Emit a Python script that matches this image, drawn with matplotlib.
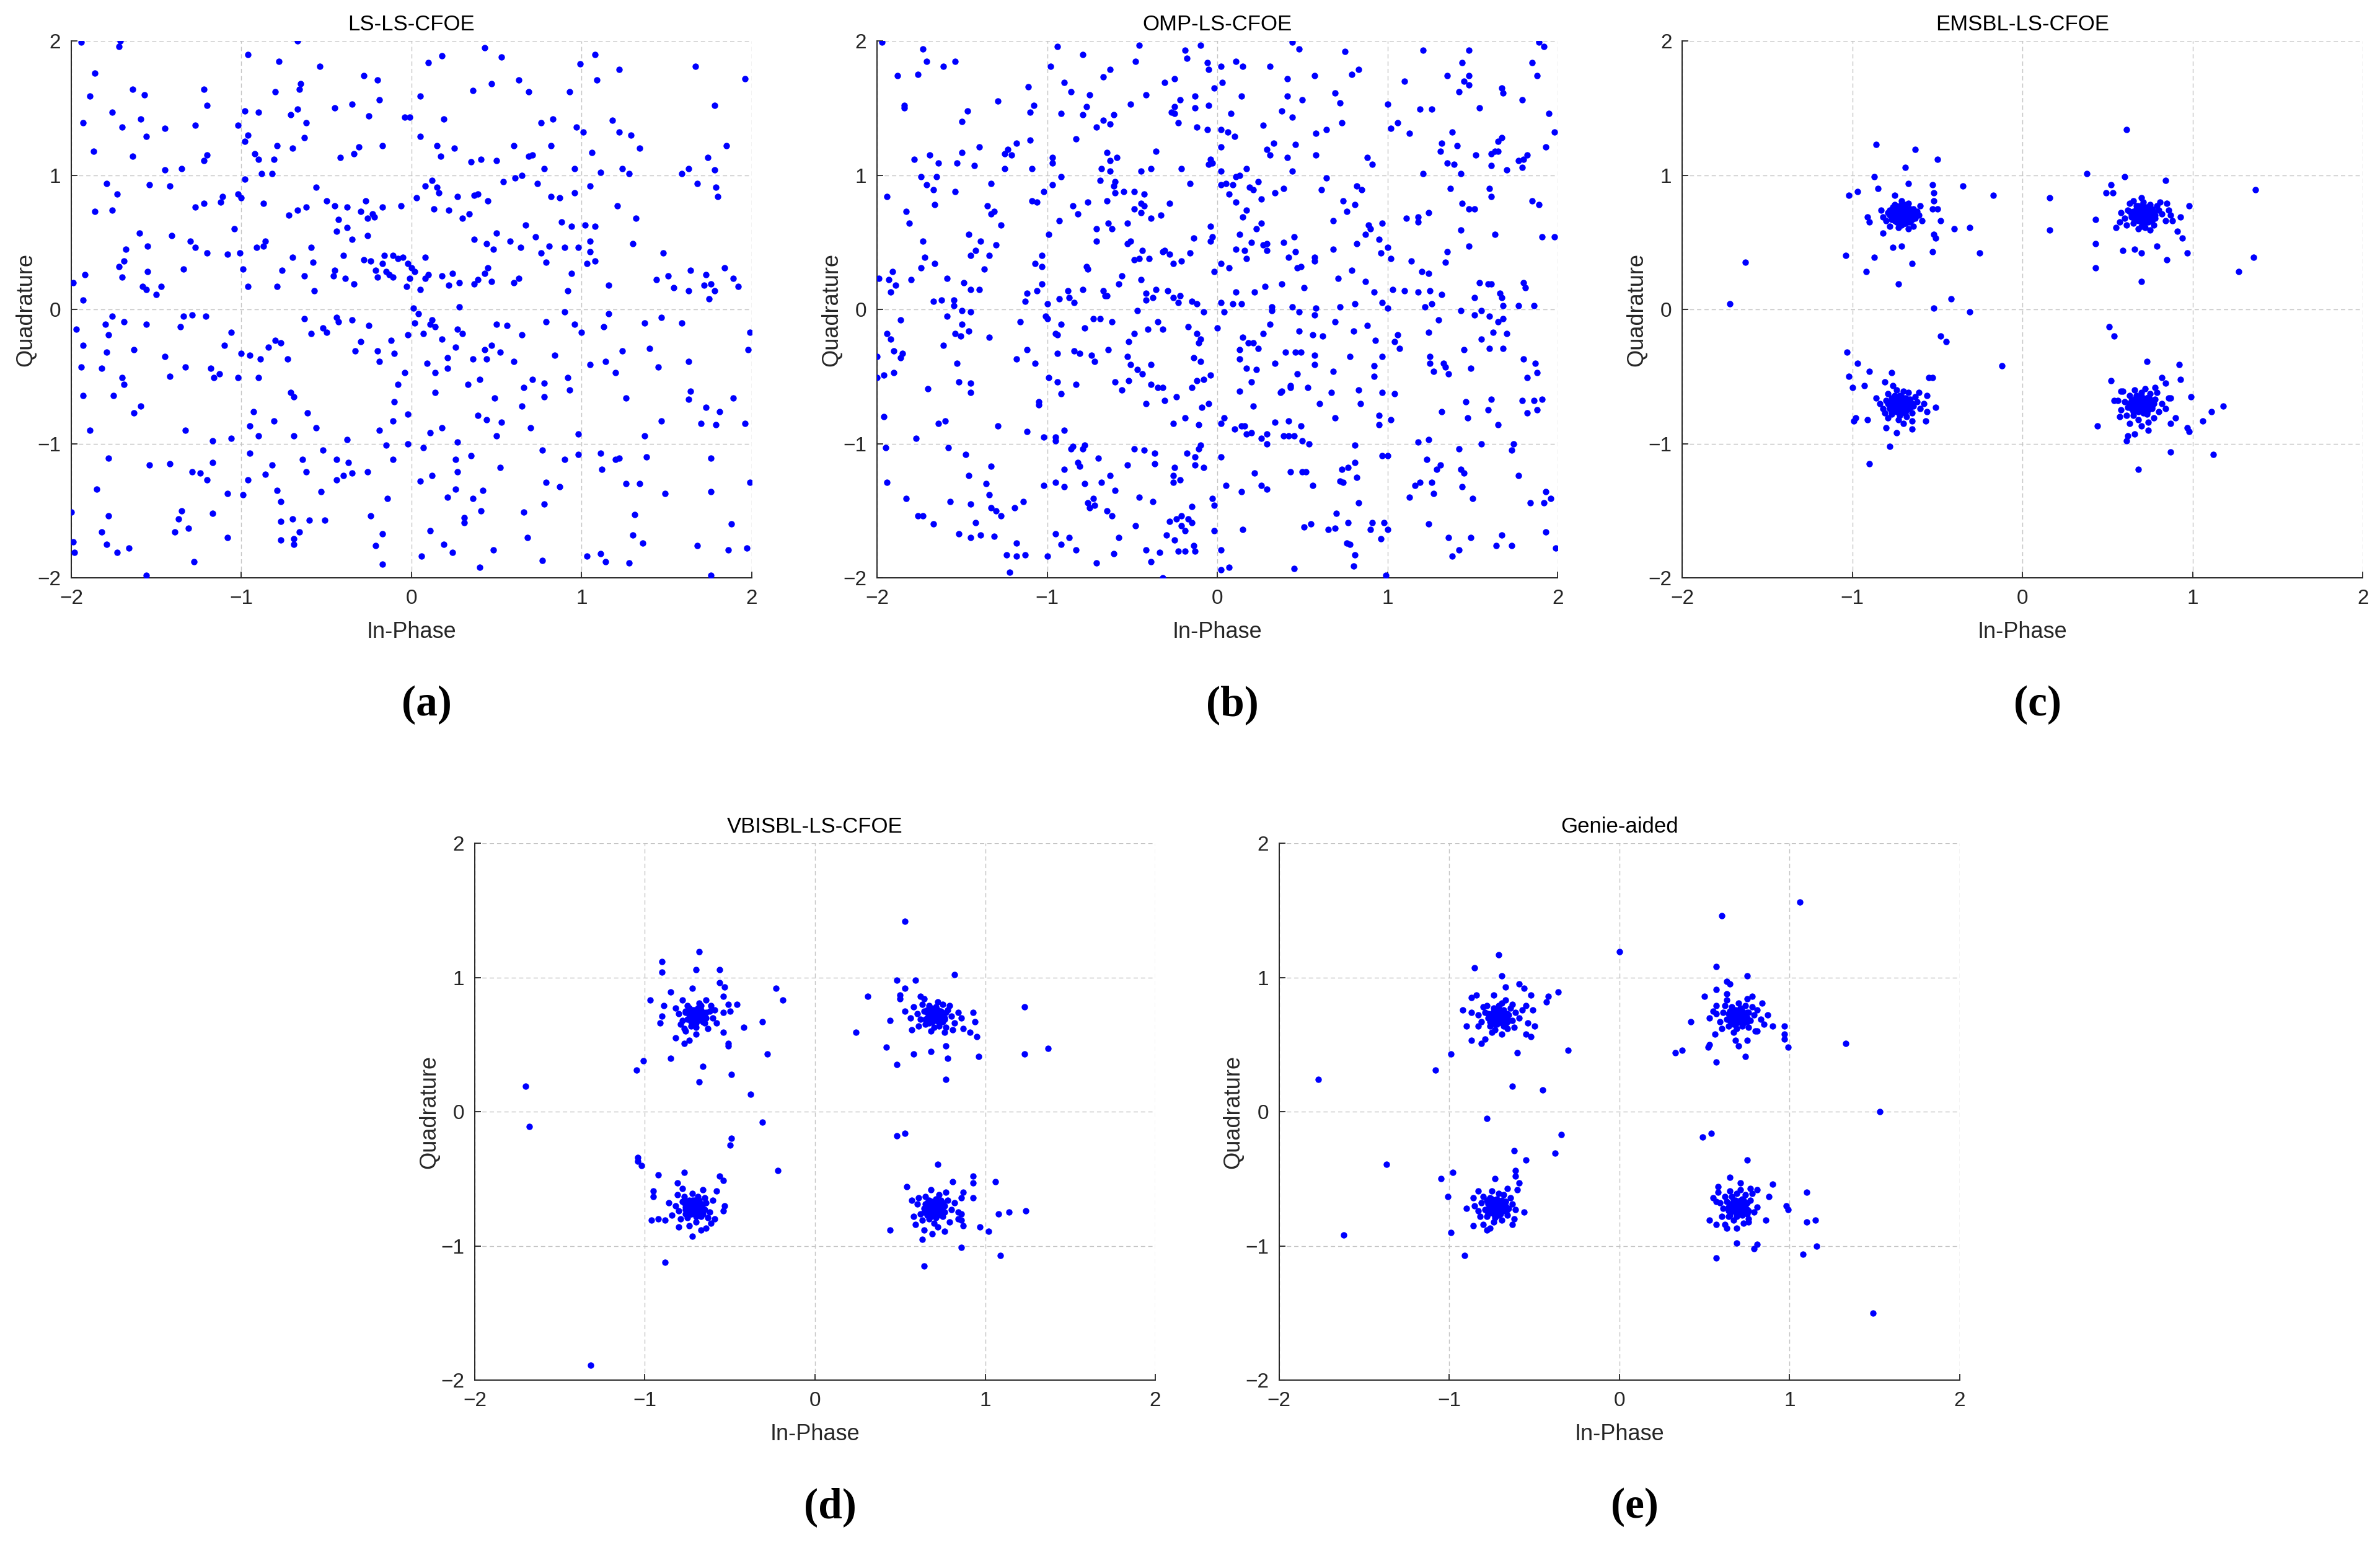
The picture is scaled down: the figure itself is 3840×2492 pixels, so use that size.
import matplotlib
matplotlib.use('Agg')
import matplotlib.pyplot as plt
import numpy as np

# Received constellation points (In-Phase, Quadrature)

# (a) LS-LS-CFOE
pts_a = [
    (-1.94, 1.99), (-1.71, 2.0), (-1.72, 1.96), (-0.67, 2.0), (-0.96, 1.90), (-0.78, 1.85), (-0.54, 1.81),
    (1.08, 1.90), (0.43, 1.95), (0.53, 1.88), (0.18, 1.89), (0.10, 1.84), (0.99, 1.83), (1.22, 1.79),
    (1.67, 1.81), (1.09, 1.71), (0.63, 1.71), (1.96, 1.72), (-1.86, 1.76), (-1.89, 1.59), (-1.57, 1.60),
    (-1.64, 1.64), (-0.80, 1.62), (-0.65, 1.68), (-0.66, 1.64), (-0.28, 1.74), (-0.20, 1.71), (-0.19, 1.56),
    (-0.35, 1.53), (0.05, 1.59), (0.36, 1.63), (0.47, 1.68), (0.93, 1.62), (0.69, 1.62), (1.78, 1.52),
    (-1.93, 1.39), (-1.76, 1.47), (-1.70, 1.36), (-1.59, 1.42), (-1.56, 1.29), (-1.45, 1.35), (-1.27, 1.37),
    (-1.20, 1.52), (-1.22, 1.64), (-1.02, 1.37), (-0.98, 1.48), (-0.90, 1.47), (-0.71, 1.45), (-0.67, 1.49),
    (-0.62, 1.39), (-0.63, 1.28), (-0.45, 1.50), (-0.25, 1.44), (-0.04, 1.43), (-0.01, 1.43), (0.05, 1.29),
    (0.19, 1.42), (0.83, 1.42), (0.76, 1.39), (0.97, 1.36), (1.18, 1.41), (1.22, 1.32), (1.29, 1.30),
    (-1.87, 1.18), (-1.64, 1.14), (-1.20, 1.15), (-1.22, 1.11), (-0.98, 1.25), (-0.96, 1.30), (-0.92, 1.16),
    (-0.90, 1.12), (-0.81, 1.12), (-0.79, 1.22), (-0.70, 1.20), (-0.42, 1.13), (-0.34, 1.16), (-0.31, 1.21),
    (-0.17, 1.22), (0.15, 1.22), (0.25, 1.20), (0.17, 1.14), (0.35, 1.10), (0.41, 1.12), (0.50, 1.11),
    (0.60, 1.22), (0.69, 1.14), (0.71, 1.15), (0.82, 1.22), (1.01, 1.32), (1.06, 1.17), (1.34, 1.20),
    (1.74, 1.13), (1.85, 1.22), (1.78, 1.04), (1.63, 1.05), (1.59, 1.01), (1.24, 1.05), (1.28, 1.01),
    (1.11, 1.02), (0.96, 1.05), (1.05, 0.92),
    (-1.45, 1.04), (-1.35, 1.05), (-1.79, 0.94), (-1.73, 0.86), (-1.86, 0.73), (-1.76, 0.74), (-1.54, 0.93),
    (-1.42, 0.92), (-1.22, 0.79), (-1.27, 0.76), (-1.11, 0.84), (-1.12, 0.80), (-1.02, 0.86), (-1.00, 0.83),
    (-0.98, 0.97), (-0.88, 1.01), (-0.87, 0.79), (-0.82, 1.01), (-0.56, 0.91), (-0.50, 0.81), (-0.62, 0.76),
    (-0.72, 0.70), (-0.67, 0.74), (-0.45, 0.77), (-0.43, 0.67), (-0.38, 0.76), (-0.38, 0.61), (-0.30, 0.73),
    (-0.27, 0.81), (-0.23, 0.71), (-0.26, 0.68), (-0.22, 0.69), (-0.17, 0.76), (-0.06, 0.77), (0.03, 0.83),
    (0.08, 0.92), (0.12, 0.96), (0.15, 0.91), (0.16, 0.87), (0.13, 0.75), (0.22, 0.74), (0.27, 0.84),
    (0.30, 0.68), (0.34, 0.71), (0.37, 0.85), (0.39, 0.86), (0.45, 0.81), (0.54, 0.95), (0.61, 0.98),
    (0.65, 1.00), (0.74, 0.94), (0.82, 0.84), (0.87, 0.83), (0.78, 1.05), (0.96, 0.87), (0.88, 0.65),
    (0.94, 0.62), (1.08, 0.62), (1.21, 0.77), (1.32, 0.68), (1.68, 0.94), (1.79, 0.91), (1.80, 0.84),
    (-1.60, 0.57), (-1.68, 0.45), (-1.69, 0.36), (-1.72, 0.32), (-1.70, 0.24), (-1.55, 0.47), (-1.41, 0.55),
    (-1.30, 0.51), (-1.27, 0.46), (-1.34, 0.30), (-1.58, 0.17), (-1.56, 0.15), (-1.47, 0.17), (-1.50, 0.11),
    (-1.55, 0.28), (-1.92, 0.26), (-1.99, 0.20), (-1.93, 0.07), (-1.20, 0.42), (-1.08, 0.41), (-1.01, 0.42),
    (-0.99, 0.30), (-0.96, 0.17), (-1.04, 0.60), (-0.91, 0.46), (-0.86, 0.51), (-0.87, 0.47), (-0.76, 0.29),
    (-0.79, 0.17), (-0.70, 0.39), (-0.63, 0.25), (-0.59, 0.46), (-0.58, 0.35), (-0.57, 0.14), (-0.44, 0.58),
    (-0.45, 0.29), (-0.46, 0.25), (-0.40, 0.40), (-0.35, 0.52), (-0.39, 0.23), (-0.34, 0.19), (-0.28, 0.37),
    (-0.26, 0.55), (-0.24, 0.36), (-0.21, 0.29), (-0.20, 0.24), (-0.17, 0.34), (-0.15, 0.28), (-0.13, 0.26),
    (-0.11, 0.24), (-0.16, 0.40), (-0.11, 0.40), (-0.08, 0.38), (-0.05, 0.39), (-0.02, 0.34), (0.00, 0.31),
    (-0.01, 0.23), (-0.03, 0.17), (0.05, 0.15), (0.08, 0.23), (0.08, 0.39), (0.02, 0.28), (0.10, 0.26),
    (0.18, 0.25), (0.22, 0.18), (0.24, 0.27), (0.28, 0.20), (0.37, 0.19), (0.39, 0.22), (0.43, 0.27),
    (0.45, 0.31), (0.47, 0.21), (0.44, 0.49), (0.37, 0.52), (0.48, 0.45), (0.50, 0.57), (0.58, 0.51),
    (0.60, 0.20), (0.63, 0.23), (0.64, 0.46), (0.67, 0.63), (0.73, 0.54), (0.81, 0.47), (0.76, 0.42),
    (0.79, 0.35), (0.90, 0.46), (0.92, 0.14), (0.94, 0.27), (0.98, 0.46), (1.03, 0.34), (1.02, 0.63),
    (1.05, 0.51), (1.08, 0.36), (1.16, 0.18), (1.30, 0.49), (1.44, 0.22), (1.51, 0.25), (1.54, 0.16),
    (1.64, 0.29), (1.72, 0.18), (1.73, 0.26), (1.76, 0.19), (1.84, 0.31), (1.89, 0.23), (1.92, 0.17),
    (1.78, 0.14), (1.63, 0.14), (1.75, 0.08), (1.48, 0.42), (1.05, 0.43),
    (-1.97, -0.15), (-1.93, -0.27), (-1.80, -0.11), (-1.78, -0.19), (-1.76, -0.05), (-1.79, -0.32),
    (-1.70, -0.51), (-1.69, -0.09), (-1.63, -0.30), (-1.56, -0.11), (-1.45, -0.35), (-1.42, -0.50),
    (-1.36, -0.13), (-1.34, -0.05), (-1.33, -0.43), (-1.29, -0.04), (-1.21, -0.05), (-1.18, -0.44),
    (-1.16, -0.51), (-1.13, -0.48), (-1.10, -0.27), (-1.06, -0.17), (-1.02, -0.51), (-1.00, -0.33),
    (-0.95, -0.34), (-0.90, -0.51), (-0.89, -0.37), (-0.84, -0.28), (-0.80, -0.23), (-0.77, -0.25),
    (-0.73, -0.37), (-0.71, -0.62), (-0.69, -0.65), (-0.63, -0.07), (-0.59, -0.18), (-0.52, -0.14),
    (-0.50, -0.17), (-0.44, -0.06), (-0.43, -0.09), (-0.35, -0.08), (-0.33, -0.31), (-0.30, -0.24),
    (-0.25, -0.12), (-0.20, -0.31), (-0.19, -0.39), (-0.12, -0.23), (-0.10, -0.33), (-0.08, -0.56),
    (-0.10, -0.69), (-0.04, -0.47), (-0.02, -0.19), (0.01, 0.01), (0.04, -0.03), (0.11, -0.11),
    (0.09, -0.40), (0.02, -0.10), (0.07, -0.18), (0.12, -0.08), (0.14, -0.13), (0.18, -0.22),
    (0.14, -0.47), (0.21, -0.36), (0.21, -0.44), (0.26, -0.28), (0.28, 0.02), (0.27, -0.15),
    (0.30, -0.18), (0.33, -0.56), (0.36, -0.37), (0.40, -0.52), (0.43, -0.30), (0.44, -0.37),
    (0.47, -0.27), (0.52, -0.32), (0.49, -0.66), (0.50, -0.11), (0.56, -0.12), (0.60, -0.39),
    (0.65, -0.19), (0.66, -0.58), (0.65, -0.72), (0.71, -0.52), (0.78, -0.55), (0.79, -0.09),
    (0.78, -0.65), (0.84, -0.34), (0.90, -0.02), (0.92, -0.51), (0.93, -0.60), (0.96, -0.11),
    (1.00, -0.17), (1.05, -0.41), (1.13, -0.13), (1.14, -0.39), (1.16, -0.03), (1.20, -0.47),
    (1.24, -0.31), (1.26, -0.66), (1.37, -0.10), (1.40, -0.29), (1.45, -0.43), (1.47, -0.06),
    (1.63, -0.39), (1.64, -0.61), (1.63, -0.67), (1.73, -0.73), (1.79, -0.86), (1.81, -0.76),
    (1.96, -0.85), (1.99, -0.17), (1.98, -0.30), (1.89, -0.66), (1.59, -0.10), (-1.93, -0.64),
    (-1.94, -0.43), (-1.89, -0.90), (-1.82, -0.44), (-1.75, -0.64), (-1.69, -0.56), (-1.63, -0.77),
    (-1.59, -0.72), (-1.54, -1.16), (-1.42, -1.15), (-1.33, -0.90), (-1.17, -0.98), (-1.06, -0.96),
    (-0.95, -0.87), (-0.90, -0.94), (-0.93, -0.76), (-0.81, -0.83), (-0.69, -0.94), (-0.61, -0.77),
    (-0.56, -0.88), (-0.38, -0.97), (-0.19, -0.90), (-0.11, -0.83), (-0.02, -0.78), (0.11, -0.92),
    (0.14, -0.62), (0.18, -0.88), (0.27, -0.99), (0.39, -0.79), (0.44, -0.82), (0.50, -0.94),
    (0.53, -0.84), (0.70, -0.88), (0.98, -0.93), (1.37, -0.94), (1.47, -0.83), (1.70, -0.85),
    (-2.00, -1.51), (-1.99, -1.73), (-1.98, -1.81), (-1.85, -1.34), (-1.82, -1.66), (-1.79, -1.75),
    (-1.78, -1.54), (-1.73, -1.81), (-1.66, -1.78), (-1.78, -1.11), (-1.56, -1.98), (-1.37, -1.56),
    (-1.35, -1.50), (-1.39, -1.66), (-1.31, -1.63), (-1.29, -1.21), (-1.24, -1.22), (-1.20, -1.27),
    (-1.28, -1.88), (-1.17, -1.52), (-1.17, -1.14), (-1.08, -1.70), (-1.08, -1.37), (-0.99, -1.38),
    (-0.96, -1.27), (-0.95, -1.07), (-0.86, -1.23), (-0.82, -1.16), (-0.79, -1.35), (-0.77, -1.43),
    (-0.77, -1.58), (-0.77, -1.72), (-0.70, -1.56), (-0.69, -1.71), (-0.69, -1.75), (-0.66, -1.66),
    (-0.64, -1.12), (-0.62, -1.21), (-0.60, -1.57), (-0.51, -1.57), (-0.53, -1.36), (-0.52, -1.05),
    (-0.44, -1.12), (-0.44, -1.27), (-0.37, -1.14), (-0.40, -1.24), (-0.35, -1.22), (-0.26, -1.21),
    (-0.24, -1.54), (-0.21, -1.76), (-0.17, -1.67), (-0.17, -1.90), (-0.14, -1.41), (-0.11, -1.12),
    (-0.15, -1.01), (-0.02, -1.00), (0.05, -1.28), (0.06, -1.84), (0.11, -1.65), (0.12, -1.24),
    (0.07, -1.03), (0.19, -1.75), (0.24, -1.81), (0.21, -1.40), (0.26, -1.34), (0.26, -1.12),
    (0.27, -1.21), (0.31, -1.55), (0.31, -1.59), (0.35, -1.09), (0.36, -1.41), (0.41, -1.50),
    (0.42, -1.35), (0.48, -1.79), (0.40, -1.92), (0.52, -1.18), (0.66, -1.51), (0.68, -1.70),
    (0.77, -1.87), (0.78, -1.45), (0.79, -1.29), (0.87, -1.32), (0.77, -1.05), (0.90, -1.12),
    (0.98, -1.08), (1.03, -1.84), (1.11, -1.82), (1.14, -1.88), (1.12, -1.19), (1.11, -1.07),
    (1.20, -1.12), (1.22, -1.11), (1.28, -1.89), (1.30, -1.68), (1.31, -1.53), (1.34, -1.30),
    (1.26, -1.30), (1.36, -1.74), (1.38, -1.10), (1.49, -1.37), (1.76, -1.98), (1.76, -1.36),
    (1.76, -1.11), (1.88, -1.60), (1.86, -1.79), (1.97, -1.78), (1.99, -1.29), (1.68, -1.76),
]

# (b) OMP-LS-CFOE
pts_b = [
    (-1.97, 1.99), (-1.73, 1.94), (-1.71, 1.85), (-1.61, 1.81), (-1.54, 1.85), (-1.88, 1.74), (-1.76, 1.75),
    (-1.84, 1.52), (-1.84, 1.50), (-1.50, 1.40), (-1.47, 1.48), (-1.29, 1.55), (-1.11, 1.66), (-1.08, 1.52),
    (-1.10, 1.47), (-0.94, 1.96), (-0.98, 1.81), (-0.79, 1.90), (-0.90, 1.69), (-0.86, 1.62), (-0.75, 1.60),
    (-0.77, 1.51), (-0.79, 1.45), (-0.92, 1.46), (-0.67, 1.73), (-0.63, 1.79), (-0.46, 1.97), (-0.48, 1.85),
    (-0.42, 1.60), (-0.51, 1.53), (-0.67, 1.41), (-0.61, 1.45), (-0.63, 1.38), (-0.71, 1.36), (-0.83, 1.27),
    (-0.31, 1.69), (-0.25, 1.72), (-0.19, 1.93), (-0.18, 1.87), (-0.10, 1.97), (-0.06, 1.84), (-0.05, 1.79),
    (-0.02, 1.65), (0.03, 1.69), (0.02, 1.81), (0.11, 1.85), (0.15, 1.81), (0.14, 1.59), (-0.22, 1.56),
    (-0.25, 1.51), (-0.27, 1.47), (-0.25, 1.46), (-0.23, 1.39), (-0.13, 1.59), (-0.13, 1.50), (-0.05, 1.52),
    (-0.12, 1.36), (-0.06, 1.34), (0.08, 1.46), (0.02, 1.34), (0.06, 1.32), (0.10, 1.29), (0.27, 1.37),
    (0.31, 1.81), (0.44, 1.99), (0.48, 1.94), (0.41, 1.72), (0.41, 1.59), (0.50, 1.56), (0.38, 1.48),
    (0.44, 1.43), (0.75, 1.92), (0.79, 1.75), (0.83, 1.79), (0.57, 1.74), (0.69, 1.61), (0.72, 1.54),
    (0.58, 1.31), (0.64, 1.34), (0.73, 1.39), (1.00, 1.53), (1.10, 1.70), (1.21, 1.93), (1.19, 1.49),
    (1.26, 1.49), (1.06, 1.39), (1.02, 1.35), (1.13, 1.31), (1.35, 1.74), (1.44, 1.84), (1.48, 1.93),
    (1.45, 1.70), (1.48, 1.67), (1.48, 1.74), (1.42, 1.62), (1.54, 1.50), (1.67, 1.65), (1.68, 1.61),
    (1.79, 1.56), (1.85, 1.84), (1.88, 1.74), (1.89, 1.99), (1.92, 1.96), (1.95, 1.46), (1.98, 1.32),
    (1.38, 1.32),
    (-1.69, 1.15), (-1.78, 1.12), (-1.64, 1.09), (-1.74, 0.99), (-1.65, 0.99), (-1.71, 0.93), (-1.67, 0.89),
    (-1.66, 0.78), (-1.94, 0.84), (-1.83, 0.73), (-1.81, 0.64), (-1.50, 1.17), (-1.53, 1.09), (-1.54, 0.88),
    (-1.40, 1.21), (-1.43, 1.07), (-1.33, 0.94), (-1.35, 0.77), (-1.31, 0.73), (-1.33, 0.71), (-1.27, 0.63),
    (-1.25, 1.16), (-1.23, 1.19), (-1.21, 1.15), (-1.25, 1.05), (-1.18, 1.24), (-1.10, 1.26), (-1.09, 1.05),
    (-1.09, 0.81), (-1.06, 0.80), (-1.02, 0.88), (-0.97, 1.13), (-0.97, 1.09), (-0.97, 0.93), (-0.92, 0.99),
    (-0.93, 0.66), (-0.85, 0.77), (-0.82, 0.71), (-0.76, 0.80), (-0.65, 1.17), (-0.63, 1.11), (-0.59, 1.13),
    (-0.68, 1.05), (-0.63, 1.03), (-0.69, 0.96), (-0.60, 0.95), (-0.61, 0.92), (-0.60, 0.87), (-0.65, 0.81),
    (-0.55, 0.88), (-0.49, 0.88), (-0.43, 0.86), (-0.49, 0.75), (-0.45, 0.79), (-0.43, 0.77), (-0.45, 0.72),
    (-0.39, 0.68), (-0.33, 0.70), (-0.39, 1.05), (-0.45, 1.03), (-0.36, 1.18), (-0.28, 0.79), (-0.64, 0.64),
    (-0.62, 0.60), (-0.71, 0.60), (-0.53, 0.64), (-0.21, 1.05), (-0.16, 0.94), (-0.04, 1.12), (-0.05, 1.08),
    (-0.03, 1.09), (0.02, 1.03), (0.02, 0.93), (0.05, 0.94), (0.02, 1.21), (0.11, 0.99), (0.09, 0.93),
    (0.13, 1.00), (0.17, 1.05), (0.07, 0.86), (0.11, 0.80), (0.15, 0.69), (0.17, 0.74), (0.19, 0.91),
    (0.21, 0.89), (0.24, 0.95), (0.26, 0.82), (0.29, 1.19), (0.31, 1.15), (0.33, 1.24), (0.34, 0.87),
    (0.39, 0.90), (0.41, 1.13), (0.44, 1.03), (0.46, 1.23), (0.58, 1.15), (0.64, 0.98), (0.61, 0.89),
    (0.68, 0.66), (0.74, 0.81), (0.76, 0.73), (0.81, 0.78), (0.82, 0.92), (0.85, 0.89), (0.88, 1.13),
    (0.91, 1.08), (1.21, 1.01), (1.11, 0.68), (1.18, 0.69), (1.18, 0.65), (1.24, 0.72), (0.89, 0.63),
    (0.90, 0.60), (0.97, 0.64), (1.31, 1.18), (1.32, 1.24), (1.35, 1.09), (1.39, 1.08), (1.43, 1.01),
    (1.41, 1.22), (1.37, 0.90), (1.44, 0.79), (1.48, 0.75), (1.51, 0.75), (1.52, 1.15), (1.61, 1.16),
    (1.63, 1.18), (1.65, 1.25), (1.67, 1.28), (1.65, 1.18), (1.61, 1.07), (1.70, 1.04), (1.60, 0.90),
    (1.61, 0.84), (1.77, 1.11), (1.79, 1.06), (1.80, 1.12), (1.82, 1.15), (1.85, 0.81), (1.89, 0.78),
    (1.93, 1.21), (1.91, 0.54), (1.98, 0.54), (1.63, 0.56),
    (-1.73, 0.51), (-1.72, 0.39), (-1.74, 0.31), (-1.80, 0.22), (-1.91, 0.28), (-1.99, 0.23), (-1.93, 0.22),
    (-1.89, 0.18), (-1.92, 0.13), (-1.66, 0.34), (-1.59, 0.23), (-1.67, 0.06), (-1.62, 0.07), (-1.55, 0.07),
    (-1.55, 0.03), (-1.46, 0.56), (-1.39, 0.51), (-1.42, 0.44), (-1.45, 0.40), (-1.34, 0.40), (-1.37, 0.30),
    (-1.30, 0.48), (-1.49, 0.20), (-1.45, 0.15), (-1.40, 0.15), (-1.07, 0.34), (-1.03, 0.40), (-1.03, 0.32),
    (-0.99, 0.56), (-1.03, 0.19), (-1.06, 0.14), (-1.12, 0.12), (-1.13, 0.06), (-1.00, 0.04), (-0.93, 0.08),
    (-0.88, 0.14), (-0.87, 0.09), (-0.84, 0.05), (-0.79, 0.15), (-0.77, 0.32), (-0.76, 0.30), (-0.71, 0.51),
    (-0.67, 0.14), (-0.66, 0.10), (-0.65, 0.10), (-0.58, 0.19), (-0.56, 0.25), (-0.53, 0.49), (-0.51, 0.51),
    (-0.49, 0.37), (-0.46, 0.38), (-0.45, 0.22), (-0.44, 0.44), (-0.40, 0.38), (-0.42, 0.12), (-0.42, 0.07),
    (-0.38, 0.09), (-0.32, 0.43), (-0.31, 0.44), (-0.28, 0.41), (-0.26, 0.34), (-0.36, 0.15), (-0.29, 0.14),
    (-0.26, 0.09), (-0.23, 0.05), (-0.22, 0.10), (-0.21, 0.36), (-0.16, 0.42), (-0.14, 0.53), (-0.15, 0.06),
    (-0.12, 0.04), (-0.08, -0.02), (-0.04, 0.62), (-0.03, 0.54), (-0.04, 0.51), (-0.02, 0.28), (0.02, 0.34),
    (0.07, 0.31), (0.02, 0.05), (0.04, -0.02), (0.09, 0.04), (0.11, 0.13), (0.14, 0.04), (0.13, 0.56),
    (0.11, 0.45), (0.16, 0.44), (0.20, 0.50), (0.23, 0.60), (0.26, 0.64), (0.17, 0.38), (0.22, 0.13),
    (0.28, 0.17), (0.27, 0.48), (0.29, 0.44), (0.29, 0.49), (0.32, 0.02), (0.32, -0.01), (0.38, 0.19),
    (0.39, 0.50), (0.45, 0.54), (0.42, 0.39), (0.46, 0.43), (0.47, 0.31), (0.49, 0.32), (0.51, 0.16),
    (0.44, 0.02), (0.48, -0.02), (0.57, 0.39), (0.57, 0.36), (0.58, 0.01), (0.57, -0.04), (0.71, 0.23),
    (0.69, -0.09), (0.72, 0.02), (0.68, 0.45), (0.79, 0.29), (0.82, 0.49), (0.87, 0.56), (0.87, 0.21),
    (0.81, 0.04), (0.92, 0.13), (0.95, 0.52), (0.96, 0.42), (1.00, 0.46), (1.02, 0.38), (0.97, 0.05),
    (1.00, 0.01), (1.03, 0.15), (1.14, 0.36), (1.10, 0.14), (1.20, 0.28), (1.18, 0.13), (1.24, 0.27),
    (1.25, 0.14), (1.22, 0.02), (1.26, 0.04), (1.35, 0.43), (1.34, 0.35), (1.32, 0.11), (1.48, 0.47),
    (1.43, 0.59), (1.54, 0.20), (1.59, 0.19), (1.61, 0.19), (1.51, 0.09), (1.66, 0.12), (1.67, 0.09),
    (1.68, 0.03), (1.77, 0.03), (1.80, 0.20), (1.81, 0.16), (1.86, 0.03), (1.43, -0.01),
    (-2.00, -0.35), (-2.00, -0.51), (-1.96, -0.49), (-1.94, -0.18), (-1.92, -0.22), (-1.90, -0.31),
    (-1.86, -0.08), (-1.85, -0.33), (-1.86, -0.36), (-1.90, -0.47), (-1.59, -0.05), (-1.61, -0.27),
    (-1.50, -0.01), (-1.45, -0.02), (-1.50, -0.11), (-1.54, -0.18), (-1.51, -0.20), (-1.46, -0.16),
    (-1.53, -0.40), (-1.52, -0.54), (-1.45, -0.55), (-1.45, -0.62), (-1.70, -0.59), (-1.34, -0.21),
    (-1.12, -0.30), (-1.18, -0.37), (-1.16, -0.09), (-1.07, -0.40), (-1.01, -0.05), (-1.00, -0.07),
    (-0.99, -0.51), (-0.95, -0.18), (-0.94, -0.19), (-0.92, -0.11), (-0.94, -0.33), (-0.94, -0.54),
    (-0.84, -0.31), (-0.81, -0.33), (-0.83, -0.56), (-0.78, -0.14), (-0.73, -0.07), (-0.69, -0.07),
    (-0.74, -0.34), (-0.72, -0.39), (-0.64, -0.30), (-0.62, -0.09), (-0.60, -0.54), (-0.56, -0.60),
    (-0.52, -0.24), (-0.53, -0.35), (-0.51, -0.41), (-0.52, -0.53), (-0.49, -0.18), (-0.47, -0.01),
    (-0.47, -0.45), (-0.44, -0.48), (-0.41, -0.15), (-0.39, -0.41), (-0.39, -0.56), (-0.35, -0.09),
    (-0.32, -0.15), (-0.32, -0.58), (-0.17, -0.13), (-0.14, -0.36), (-0.10, -0.39), (-0.12, -0.18),
    (-0.10, -0.22), (-0.11, -0.25), (-0.12, -0.53), (-0.08, -0.52), (-0.04, -0.49), (-0.15, -0.58),
    (0.00, -0.14), (0.13, -0.30), (0.13, -0.37), (0.15, -0.21), (0.17, -0.44), (0.18, -0.25),
    (0.21, -0.25), (0.24, -0.29), (0.23, -0.45), (0.20, -0.54), (0.27, -0.18), (0.31, -0.11),
    (0.34, -0.40), (0.40, -0.32), (0.46, -0.32), (0.49, -0.32), (0.48, -0.16), (0.47, -0.48),
    (0.43, -0.57), (0.56, -0.19), (0.57, -0.34), (0.57, -0.41), (0.62, -0.20), (0.68, -0.46),
    (0.78, -0.35), (0.80, -0.16), (0.88, -0.12), (0.93, -0.23), (0.92, -0.42), (0.92, -0.50),
    (0.97, -0.35), (1.04, -0.24), (1.06, -0.19), (1.07, -0.29), (1.24, -0.17), (1.30, -0.08),
    (1.25, -0.35), (1.25, -0.40), (1.27, -0.46), (1.33, -0.40), (1.34, -0.43), (1.36, -0.48),
    (1.45, -0.30), (1.51, -0.04), (1.55, -0.01), (1.55, -0.22), (1.49, -0.44), (1.60, -0.05),
    (1.62, -0.17), (1.60, -0.29), (1.65, -0.09), (1.68, -0.07), (1.70, -0.18), (1.68, -0.29),
    (1.80, -0.37), (1.82, -0.51), (1.87, -0.40), (1.88, -0.47),
    (-1.64, -0.85), (-1.60, -0.83), (-1.96, -0.80), (-1.29, -0.87), (-1.05, -0.69), (-1.05, -0.71),
    (-1.12, -0.91), (-1.02, -0.95), (-0.95, -0.95), (-0.95, -0.98), (-0.90, -0.90), (-0.92, -0.63),
    (-0.35, -0.58), (-0.31, -0.68), (-0.24, -0.65), (-0.26, -0.85), (-0.19, -0.81), (-0.42, -0.70),
    (-0.09, -0.73), (-0.05, -0.70), (-0.11, -0.86), (0.02, -0.85), (0.04, -0.81), (0.13, -0.61),
    (0.10, -0.89), (0.14, -0.87), (0.16, -0.87), (0.17, -0.93), (0.20, -0.92), (0.26, -0.96),
    (0.29, -0.93), (0.29, -1.00), (0.21, -0.72), (0.34, -0.84), (0.37, -0.62), (0.38, -0.61),
    (0.42, -0.83), (0.43, -0.58), (0.39, -0.94), (0.42, -0.94), (0.45, -0.94), (0.49, -0.87),
    (0.50, -0.98), (0.54, -1.00), (0.53, -0.58), (0.60, -0.70), (0.67, -0.62), (0.69, -0.81),
    (0.83, -0.60), (0.84, -0.70), (0.97, -0.62), (0.95, -0.79), (0.95, -0.86), (1.02, -0.82),
    (1.04, -0.63), (1.18, -0.99), (1.24, -0.97), (1.32, -0.76), (1.46, -0.69), (1.47, -0.81),
    (1.55, -1.00), (1.59, -0.75), (1.61, -0.67), (1.65, -0.86), (1.79, -0.68), (1.82, -0.77),
    (1.86, -0.68), (1.88, -0.75), (1.91, -0.67), (1.74, -1.00),
    (-1.95, -1.03), (-1.94, -1.29), (-1.83, -1.41), (-1.77, -0.96), (-1.76, -1.54), (-1.73, -1.54),
    (-1.67, -1.60), (-1.58, -1.03), (-1.57, -1.43), (-1.52, -1.67), (-1.48, -1.08), (-1.46, -1.24),
    (-1.45, -1.45), (-1.42, -1.59), (-1.45, -1.70), (-1.39, -1.68), (-1.36, -1.30), (-1.34, -1.38),
    (-1.33, -1.17), (-1.33, -1.48), (-1.30, -1.50), (-1.31, -1.69), (-1.27, -1.54), (-1.24, -1.83),
    (-1.22, -1.96), (-1.19, -1.48), (-1.18, -1.74), (-1.18, -1.84), (-1.14, -1.43), (-1.13, -1.83),
    (-1.02, -1.31), (-1.00, -1.84), (-0.95, -1.29), (-0.95, -1.67), (-0.92, -1.75), (-0.90, -1.32),
    (-0.90, -1.19), (-0.87, -1.70), (-0.86, -1.04), (-0.85, -1.02), (-0.83, -1.79), (-0.82, -1.14),
    (-0.81, -1.17), (-0.79, -1.04), (-0.78, -1.01), (-0.78, -1.30), (-0.76, -1.44), (-0.75, -1.48),
    (-0.73, -1.41), (-0.72, -1.46), (-0.71, -1.89), (-0.70, -1.11), (-0.68, -1.29), (-0.65, -1.50),
    (-0.63, -1.24), (-0.62, -1.54), (-0.60, -1.35), (-0.61, -1.82), (-0.58, -1.70), (-0.53, -1.16),
    (-0.49, -1.04), (-0.48, -1.61), (-0.46, -1.40), (-0.43, -1.05), (-0.42, -1.79), (-0.39, -1.88),
    (-0.38, -1.43), (-0.37, -1.15), (-0.37, -1.07), (-0.34, -1.81), (-0.32, -2.00), (-0.30, -1.68),
    (-0.28, -1.58), (-0.25, -1.18), (-0.26, -1.24), (-0.26, -1.29), (-0.24, -1.56), (-0.25, -1.72),
    (-0.23, -1.80), (-0.22, -1.27), (-0.21, -1.54), (-0.21, -1.61), (-0.19, -1.65), (-0.19, -1.80),
    (-0.18, -1.07), (-0.17, -1.56), (-0.15, -1.47), (-0.15, -1.59), (-0.14, -1.76), (-0.13, -1.80),
    (-0.13, -1.10), (-0.13, -1.16), (-0.11, -1.04), (-0.10, -1.01), (-0.08, -1.18), (-0.03, -1.41),
    (-0.02, -1.46), (-0.02, -1.65), (0.02, -1.10), (0.02, -1.79), (0.02, -1.94), (0.05, -1.31),
    (0.07, -1.92), (0.14, -1.36), (0.15, -1.64), (0.22, -1.22), (0.26, -1.31), (0.29, -1.34),
    (0.43, -1.21), (0.45, -1.93), (0.50, -1.21), (0.52, -1.21), (0.51, -1.62), (0.55, -1.60),
    (0.56, -1.31), (0.65, -1.64), (0.69, -1.63), (0.70, -1.52), (0.72, -1.28), (0.74, -1.29),
    (0.73, -1.19), (0.77, -1.18), (0.76, -1.74), (0.78, -1.75), (0.77, -1.59), (0.80, -1.91),
    (0.81, -1.83), (0.82, -1.25), (0.83, -1.44), (0.81, -1.14), (0.81, -1.01), (0.90, -1.64),
    (0.91, -1.59), (0.96, -1.71), (0.97, -1.09), (1.00, -1.09), (0.98, -1.59), (1.00, -1.64),
    (0.99, -1.98), (1.13, -1.40), (1.16, -1.31), (1.19, -1.29), (1.23, -1.12), (1.24, -1.60),
    (1.26, -1.29), (1.27, -1.37), (1.29, -1.19), (1.31, -1.16), (1.36, -1.70), (1.38, -1.84),
    (1.42, -1.79), (1.43, -1.19), (1.45, -1.22), (1.44, -1.32), (1.42, -1.04), (1.50, -1.41),
    (1.49, -1.70), (1.64, -1.76), (1.67, -1.68), (1.73, -1.05), (1.73, -1.76), (1.77, -1.24),
    (1.84, -1.44), (1.92, -1.44), (1.93, -1.36), (1.93, -1.66), (1.96, -1.41), (1.99, -1.78),
]

# (c) EMSBL-LS-CFOE: dense cores and scattered points
c_core_ul = [
    (-0.71, 0.70), (-0.69, 0.72), (-0.73, 0.68), (-0.67, 0.69), (-0.75, 0.71), (-0.70, 0.74), (-0.72, 0.66),
    (-0.65, 0.71), (-0.77, 0.69), (-0.74, 0.65), (-0.68, 0.75), (-0.63, 0.68), (-0.79, 0.72), (-0.71, 0.63),
    (-0.66, 0.65), (-0.76, 0.76), (-0.69, 0.78), (-0.62, 0.73), (-0.80, 0.66), (-0.73, 0.61), (-0.64, 0.62),
    (-0.78, 0.62), (-0.67, 0.79), (-0.75, 0.78), (-0.61, 0.70), (-0.82, 0.69), (-0.70, 0.67), (-0.68, 0.70),
    (-0.74, 0.72), (-0.70, 0.73), (-0.72, 0.77), (-0.66, 0.73), (-0.76, 0.67), (-0.69, 0.64), (-0.73, 0.75),
    (-0.64, 0.75), (-0.78, 0.74), (-0.59, 0.66), (-0.83, 0.74), (-0.67, 0.60), (-0.71, 0.81), (-0.60, 0.77),
    (-0.71, 0.71), (-0.70, 0.69), (-0.72, 0.70), (-0.69, 0.71), (-0.73, 0.72), (-0.68, 0.68), (-0.74, 0.68),
    (-0.70, 0.73), (-0.72, 0.67), (-0.67, 0.72), (-0.75, 0.70), (-0.69, 0.66), (-0.73, 0.74), (-0.66, 0.70),
    (-0.76, 0.72), (-0.71, 0.65), (-0.70, 0.76), (-0.65, 0.67), (-0.77, 0.67), (-0.68, 0.74), (-0.74, 0.65),
    (-0.66, 0.75), (-0.76, 0.75), (-0.72, 0.63), (-0.69, 0.64), (-0.64, 0.71), (-0.78, 0.70), (-0.71, 0.77),
    (-0.67, 0.65), (-0.75, 0.66), (-0.73, 0.69), (-0.69, 0.73),
]
c_core_ur = [
    (0.70, 0.71), (0.72, 0.73), (0.68, 0.69), (0.74, 0.70), (0.66, 0.72), (0.71, 0.76), (0.69, 0.66),
    (0.76, 0.73), (0.64, 0.69), (0.73, 0.65), (0.67, 0.77), (0.78, 0.68), (0.62, 0.74), (0.70, 0.62),
    (0.75, 0.78), (0.65, 0.64), (0.80, 0.74), (0.63, 0.79), (0.77, 0.63), (0.60, 0.68), (0.71, 0.80),
    (0.82, 0.71), (0.68, 0.60), (0.73, 0.69), (0.69, 0.74), (0.71, 0.68), (0.67, 0.71), (0.74, 0.75),
    (0.66, 0.67), (0.76, 0.66), (0.72, 0.61), (0.63, 0.73), (0.79, 0.77), (0.70, 0.83), (0.84, 0.66),
    (0.58, 0.72), (0.75, 0.59), (0.61, 0.63), (0.81, 0.80), (0.65, 0.81), (0.86, 0.74), (0.57, 0.65),
    (0.71, 0.71), (0.70, 0.70), (0.72, 0.72), (0.69, 0.72), (0.73, 0.69), (0.68, 0.69), (0.74, 0.73),
    (0.71, 0.74), (0.70, 0.67), (0.67, 0.73), (0.75, 0.71), (0.72, 0.66), (0.69, 0.75), (0.66, 0.70),
    (0.76, 0.68), (0.73, 0.76), (0.68, 0.66), (0.65, 0.73), (0.77, 0.73), (0.70, 0.77), (0.74, 0.65),
    (0.66, 0.67), (0.76, 0.75), (0.71, 0.64), (0.64, 0.70), (0.78, 0.70), (0.68, 0.77), (0.73, 0.68),
    (0.69, 0.70), (0.75, 0.67), (0.67, 0.75), (0.72, 0.74),
]
c_core_ll = [
    (-0.72, -0.70), (-0.70, -0.68), (-0.74, -0.72), (-0.68, -0.71), (-0.76, -0.69), (-0.71, -0.65),
    (-0.73, -0.75), (-0.66, -0.67), (-0.78, -0.73), (-0.69, -0.76), (-0.75, -0.64), (-0.64, -0.72),
    (-0.80, -0.68), (-0.72, -0.79), (-0.67, -0.62), (-0.77, -0.78), (-0.62, -0.69), (-0.82, -0.74),
    (-0.70, -0.61), (-0.65, -0.77), (-0.79, -0.63), (-0.73, -0.82), (-0.60, -0.74), (-0.84, -0.70),
    (-0.71, -0.73), (-0.73, -0.67), (-0.69, -0.70), (-0.75, -0.71), (-0.67, -0.74), (-0.77, -0.66),
    (-0.63, -0.65), (-0.81, -0.77), (-0.68, -0.80), (-0.74, -0.60), (-0.58, -0.70), (-0.86, -0.66),
    (-0.65, -0.83), (-0.79, -0.81), (-0.61, -0.62), (-0.70, -0.85), (-0.76, -0.57), (-0.56, -0.76),
    (-0.72, -0.71), (-0.71, -0.70), (-0.73, -0.72), (-0.70, -0.72), (-0.74, -0.69), (-0.69, -0.69),
    (-0.75, -0.73), (-0.72, -0.74), (-0.71, -0.67), (-0.68, -0.73), (-0.76, -0.71), (-0.73, -0.66),
    (-0.70, -0.75), (-0.67, -0.70), (-0.77, -0.68), (-0.74, -0.76), (-0.69, -0.66), (-0.66, -0.73),
    (-0.78, -0.74), (-0.71, -0.77), (-0.75, -0.65), (-0.67, -0.67), (-0.77, -0.76), (-0.72, -0.64),
    (-0.65, -0.70), (-0.79, -0.70), (-0.69, -0.77), (-0.74, -0.68), (-0.70, -0.70), (-0.76, -0.67),
    (-0.68, -0.75), (-0.73, -0.74),
]
c_core_lr = [
    (0.70, -0.71), (0.68, -0.73), (0.72, -0.69), (0.66, -0.70), (0.74, -0.72), (0.69, -0.67), (0.71, -0.76),
    (0.64, -0.68), (0.76, -0.74), (0.67, -0.64), (0.73, -0.78), (0.62, -0.73), (0.78, -0.67), (0.70, -0.62),
    (0.65, -0.79), (0.75, -0.63), (0.60, -0.69), (0.80, -0.76), (0.68, -0.82), (0.63, -0.64), (0.77, -0.81),
    (0.72, -0.59), (0.58, -0.75), (0.82, -0.70), (0.69, -0.72), (0.71, -0.68), (0.67, -0.75), (0.73, -0.66),
    (0.65, -0.72), (0.75, -0.70), (0.61, -0.79), (0.79, -0.62), (0.66, -0.60), (0.74, -0.84), (0.56, -0.68),
    (0.84, -0.74), (0.63, -0.85), (0.78, -0.58), (0.59, -0.61), (0.86, -0.66), (0.70, -0.87), (0.57, -0.80),
    (0.70, -0.71), (0.71, -0.70), (0.69, -0.72), (0.72, -0.72), (0.68, -0.69), (0.73, -0.69), (0.67, -0.73),
    (0.70, -0.74), (0.71, -0.67), (0.74, -0.73), (0.66, -0.71), (0.69, -0.66), (0.72, -0.75), (0.75, -0.70),
    (0.65, -0.68), (0.68, -0.76), (0.73, -0.66), (0.76, -0.73), (0.64, -0.74), (0.71, -0.77), (0.67, -0.65),
    (0.75, -0.67), (0.65, -0.76), (0.70, -0.64), (0.77, -0.70), (0.63, -0.70), (0.73, -0.77), (0.68, -0.68),
    (0.72, -0.70), (0.66, -0.67), (0.74, -0.75), (0.69, -0.74),
]
c_spread = [
    (-1.72, 0.04), (-1.63, 0.35), (-0.86, 1.23), (-0.63, 1.19), (-0.50, 1.12), (-0.69, 1.06), (-0.87, 0.99),
    (-0.85, 0.90), (-0.97, 0.88), (-1.02, 0.85), (-0.67, 0.94), (-0.75, 0.85), (-0.53, 0.93), (-0.35, 0.92),
    (-0.17, 0.85), (-0.52, 0.87), (-0.52, 0.81), (-0.53, 0.75), (-0.50, 0.75), (-0.48, 0.66), (-0.40, 0.60),
    (-0.31, 0.61), (-0.25, 0.42), (-0.52, 0.56), (-0.51, 0.53), (-0.53, 0.43), (-0.65, 0.34), (-0.73, 0.19),
    (-0.87, 0.39), (-1.04, 0.40), (-0.92, 0.28), (-0.91, 0.69), (-0.90, 0.65), (-0.82, 0.57), (-0.76, 0.46),
    (-0.71, 0.47), (-0.42, 0.08), (-0.52, 0.01), (-0.31, -0.02), (-0.48, -0.20), (-0.45, -0.24), (-0.12, -0.42),
    (0.61, 1.34), (0.38, 1.01), (0.60, 0.99), (0.84, 0.96), (0.52, 0.93), (0.49, 0.87), (0.53, 0.87),
    (0.98, 0.77), (0.93, 0.69), (0.43, 0.67), (0.94, 0.53), (0.91, 0.58), (0.43, 0.49), (0.59, 0.44),
    (0.66, 0.45), (0.70, 0.42), (0.79, 0.47), (0.97, 0.42), (0.85, 0.37), (0.43, 0.31), (0.70, 0.21),
    (0.16, 0.83), (0.16, 0.59), (1.37, 0.89), (1.36, 0.39), (1.27, 0.28), (0.88, 0.66), (0.55, 0.61),
    (0.85, 0.79), (0.87, 0.70),
    (-1.03, -0.32), (-0.97, -0.40), (-1.02, -0.50), (-1.00, -0.58), (-0.93, -0.57), (-0.90, -0.46),
    (-0.98, -0.81), (-0.99, -0.83), (-0.91, -0.82), (-0.77, -0.47), (-0.81, -0.54), (-0.55, -0.51),
    (-0.53, -0.51), (-0.56, -0.64), (-0.51, -0.73), (-0.57, -0.83), (-0.65, -0.89), (-0.74, -0.92),
    (-0.80, -0.88), (-0.78, -1.02), (-0.90, -1.15),
    (0.51, -0.13), (0.54, -0.20), (0.73, -0.39), (0.92, -0.41), (0.52, -0.53), (0.82, -0.51), (0.84, -0.55),
    (0.93, -0.52), (0.58, -0.61), (0.54, -0.68), (0.87, -0.66), (0.99, -0.65), (0.90, -0.81), (0.87, -0.85),
    (0.97, -0.88), (0.98, -0.91), (0.44, -0.87), (0.62, -0.94), (0.66, -0.93), (0.74, -0.90), (0.87, -1.06),
    (0.68, -1.19), (1.06, -0.83), (1.11, -0.76), (1.18, -0.72), (1.12, -1.08), (0.61, -0.98),
]

# (d) VBISBL-LS-CFOE
d_core_ul = [
    (-0.70, 0.72), (-0.68, 0.70), (-0.72, 0.74), (-0.66, 0.73), (-0.74, 0.70), (-0.69, 0.77), (-0.71, 0.67),
    (-0.64, 0.70), (-0.76, 0.75), (-0.73, 0.64), (-0.67, 0.79), (-0.62, 0.75), (-0.78, 0.68), (-0.70, 0.63),
    (-0.65, 0.66), (-0.75, 0.79), (-0.60, 0.70), (-0.80, 0.73), (-0.68, 0.81), (-0.63, 0.62), (-0.77, 0.62),
    (-0.72, 0.69), (-0.69, 0.73), (-0.71, 0.76), (-0.66, 0.68), (-0.74, 0.77), (-0.67, 0.74), (-0.73, 0.71),
    (-0.61, 0.79), (-0.79, 0.65), (-0.64, 0.83), (-0.76, 0.60), (-0.58, 0.66), (-0.82, 0.77), (-0.70, 0.58),
    (-0.59, 0.76),
    (-0.70, 0.72), (-0.69, 0.71), (-0.71, 0.73), (-0.68, 0.73), (-0.72, 0.70), (-0.67, 0.70), (-0.73, 0.74),
    (-0.70, 0.75), (-0.71, 0.68), (-0.66, 0.74), (-0.74, 0.72), (-0.69, 0.68), (-0.72, 0.76), (-0.65, 0.71),
    (-0.75, 0.69), (-0.68, 0.77), (-0.73, 0.67), (-0.66, 0.67), (-0.76, 0.74), (-0.70, 0.66), (-0.64, 0.74),
    (-0.74, 0.77), (-0.67, 0.76), (-0.71, 0.70), (-0.69, 0.74), (-0.72, 0.72),
]
d_core_ur = [
    (0.70, 0.72), (0.72, 0.70), (0.68, 0.74), (0.74, 0.73), (0.66, 0.70), (0.71, 0.77), (0.69, 0.67),
    (0.76, 0.69), (0.64, 0.75), (0.73, 0.64), (0.67, 0.79), (0.78, 0.76), (0.62, 0.69), (0.70, 0.63),
    (0.75, 0.80), (0.65, 0.65), (0.80, 0.71), (0.60, 0.73), (0.77, 0.63), (0.72, 0.82), (0.63, 0.80),
    (0.82, 0.66), (0.71, 0.69), (0.69, 0.75), (0.73, 0.72), (0.67, 0.71), (0.74, 0.67), (0.66, 0.76),
    (0.79, 0.79), (0.61, 0.64), (0.84, 0.74), (0.68, 0.60), (0.58, 0.78), (0.76, 0.59), (0.86, 0.70),
    (0.64, 0.84), (0.81, 0.61), (0.56, 0.70),
    (0.71, 0.71), (0.70, 0.72), (0.72, 0.70), (0.69, 0.70), (0.73, 0.73), (0.68, 0.73), (0.74, 0.69),
    (0.71, 0.68), (0.70, 0.75), (0.75, 0.72), (0.67, 0.71), (0.72, 0.76), (0.69, 0.67), (0.76, 0.70),
    (0.66, 0.74), (0.73, 0.66), (0.68, 0.77), (0.77, 0.74), (0.65, 0.69), (0.71, 0.78), (0.74, 0.75),
    (0.67, 0.66), (0.75, 0.67), (0.70, 0.70), (0.72, 0.73), (0.69, 0.74),
]
d_core_ll = [
    (-0.72, -0.70), (-0.70, -0.72), (-0.74, -0.68), (-0.68, -0.69), (-0.76, -0.71), (-0.71, -0.66),
    (-0.73, -0.76), (-0.66, -0.73), (-0.78, -0.67), (-0.69, -0.63), (-0.75, -0.79), (-0.64, -0.68),
    (-0.80, -0.74), (-0.72, -0.61), (-0.67, -0.78), (-0.77, -0.63), (-0.62, -0.75), (-0.82, -0.70),
    (-0.70, -0.82), (-0.65, -0.64), (-0.79, -0.80), (-0.73, -0.69), (-0.71, -0.73), (-0.69, -0.67),
    (-0.75, -0.74), (-0.67, -0.71), (-0.77, -0.66), (-0.63, -0.79), (-0.81, -0.62), (-0.74, -0.85),
    (-0.60, -0.66), (-0.84, -0.77), (-0.66, -0.58), (-0.78, -0.57), (-0.61, -0.83), (-0.86, -0.68),
    (-0.71, -0.71), (-0.70, -0.70), (-0.72, -0.72), (-0.69, -0.72), (-0.73, -0.69), (-0.68, -0.69),
    (-0.74, -0.73), (-0.71, -0.74), (-0.70, -0.67), (-0.67, -0.72), (-0.75, -0.70), (-0.72, -0.66),
    (-0.69, -0.75), (-0.66, -0.69), (-0.76, -0.73), (-0.73, -0.76), (-0.68, -0.66), (-0.65, -0.73),
    (-0.77, -0.68), (-0.70, -0.78), (-0.74, -0.66), (-0.66, -0.76), (-0.76, -0.76), (-0.71, -0.69),
    (-0.72, -0.75), (-0.69, -0.70),
]
d_core_lr = [
    (0.70, -0.71), (0.72, -0.69), (0.68, -0.73), (0.74, -0.74), (0.66, -0.68), (0.71, -0.65), (0.69, -0.77),
    (0.76, -0.70), (0.64, -0.72), (0.73, -0.62), (0.67, -0.80), (0.78, -0.66), (0.62, -0.76), (0.70, -0.83),
    (0.75, -0.78), (0.65, -0.63), (0.80, -0.73), (0.60, -0.69), (0.77, -0.60), (0.72, -0.86), (0.63, -0.81),
    (0.82, -0.68), (0.71, -0.73), (0.69, -0.69), (0.73, -0.71), (0.67, -0.70), (0.74, -0.66), (0.66, -0.75),
    (0.79, -0.82), (0.61, -0.64), (0.84, -0.75), (0.68, -0.58), (0.58, -0.78), (0.76, -0.89), (0.86, -0.64),
    (0.64, -0.88), (0.57, -0.66),
    (0.70, -0.72), (0.71, -0.71), (0.69, -0.73), (0.72, -0.73), (0.68, -0.70), (0.73, -0.70), (0.67, -0.74),
    (0.70, -0.75), (0.71, -0.68), (0.74, -0.74), (0.66, -0.72), (0.69, -0.67), (0.72, -0.77), (0.75, -0.71),
    (0.65, -0.69), (0.68, -0.78), (0.73, -0.67), (0.76, -0.75), (0.64, -0.75), (0.71, -0.79), (0.67, -0.66),
    (0.75, -0.68), (0.66, -0.77), (0.70, -0.69), (0.72, -0.71), (0.69, -0.75),
]
d_spread = [
    (-1.70, 0.19), (-1.68, -0.11), (-1.32, -1.89), (-0.68, 1.19), (-0.90, 1.12), (-0.90, 1.04), (-0.70, 1.06),
    (-0.56, 1.06), (-0.72, 0.92), (-0.85, 0.89), (-0.56, 0.96), (-0.53, 0.93), (-0.54, 0.86), (-0.97, 0.83),
    (-0.89, 0.79), (-0.90, 0.71), (-0.91, 0.66), (-0.78, 0.83), (-0.46, 0.80), (-0.50, 0.75), (-0.54, 0.74),
    (-0.51, 0.80), (-0.42, 0.63), (-0.31, 0.67), (-0.23, 0.92), (-0.19, 0.83), (-0.28, 0.43), (-0.51, 0.51),
    (-0.51, 0.49), (-0.54, 0.59), (-0.82, 0.55), (-0.77, 0.51), (-0.74, 0.53), (-0.85, 0.40), (-1.01, 0.38),
    (-1.05, 0.31), (-0.66, 0.34), (-0.68, 0.22), (-0.49, 0.28), (-0.38, 0.13), (-0.31, -0.08), (-0.49, -0.20),
    (-0.50, -0.25), (-0.22, -0.44), (-1.04, -0.34), (-1.04, -0.37), (-1.02, -0.40), (-0.92, -0.47),
    (-0.77, -0.45), (-0.95, -0.59), (-0.95, -0.63), (-0.96, -0.81), (-0.92, -0.80), (-0.88, -0.81),
    (-0.81, -0.53), (-0.56, -0.48), (-0.54, -0.51), (-0.58, -0.59), (-0.53, -0.70), (-0.54, -0.74),
    (-0.59, -0.80), (-0.64, -0.87), (-0.67, -0.88), (-0.72, -0.93), (-0.80, -0.86), (-0.88, -1.12),
    (0.53, 1.42), (0.82, 1.02), (0.48, 0.98), (0.59, 0.98), (0.53, 0.92), (0.31, 0.86), (0.50, 0.87),
    (0.50, 0.84), (0.62, 0.86), (0.53, 0.75), (0.93, 0.74), (0.94, 0.67), (0.44, 0.68), (0.24, 0.59),
    (0.42, 0.48), (0.48, 0.35), (0.58, 0.43), (0.68, 0.45), (0.77, 0.49), (0.78, 0.40), (0.77, 0.24),
    (0.95, 0.56), (0.91, 0.59), (0.96, 0.41), (0.87, 0.62), (1.23, 0.78), (1.23, 0.43), (1.37, 0.47),
    (0.57, 0.61),
    (0.48, -0.18), (0.53, -0.16), (0.72, -0.39), (0.93, -0.48), (0.93, -0.53), (1.06, -0.52), (0.54, -0.56),
    (0.81, -0.52), (0.87, -0.60), (0.93, -0.64), (0.86, -0.76), (1.08, -0.76), (1.14, -0.75), (1.24, -0.74),
    (0.86, -0.81), (0.87, -0.85), (0.97, -0.86), (1.02, -0.89), (0.44, -0.88), (0.63, -0.95), (0.69, -0.91),
    (0.86, -1.01), (1.09, -1.07), (0.64, -1.15), (0.59, -0.84), (0.84, -0.80),
]

# (e) Genie-aided
e_core_ul = [
    (-0.71, 0.70), (-0.69, 0.72), (-0.73, 0.68), (-0.67, 0.69), (-0.75, 0.73), (-0.70, 0.75), (-0.72, 0.65),
    (-0.65, 0.72), (-0.77, 0.70), (-0.74, 0.77), (-0.68, 0.64), (-0.63, 0.68), (-0.79, 0.74), (-0.71, 0.79),
    (-0.66, 0.62), (-0.76, 0.64), (-0.61, 0.74), (-0.81, 0.67), (-0.69, 0.81), (-0.64, 0.77), (-0.78, 0.79),
    (-0.73, 0.61), (-0.70, 0.68), (-0.72, 0.72), (-0.68, 0.74), (-0.74, 0.70), (-0.66, 0.67), (-0.76, 0.67),
    (-0.62, 0.63), (-0.80, 0.78), (-0.67, 0.83), (-0.75, 0.59), (-0.59, 0.70), (-0.83, 0.72), (-0.63, 0.80),
    (-0.69, 0.58), (-0.57, 0.76),
    (-0.71, 0.70), (-0.70, 0.71), (-0.72, 0.69), (-0.69, 0.69), (-0.73, 0.72), (-0.68, 0.72), (-0.74, 0.68),
    (-0.71, 0.67), (-0.70, 0.74), (-0.75, 0.71), (-0.67, 0.70), (-0.72, 0.75), (-0.69, 0.66), (-0.76, 0.69),
    (-0.66, 0.73), (-0.73, 0.65), (-0.68, 0.76), (-0.77, 0.73), (-0.65, 0.68), (-0.71, 0.77), (-0.74, 0.75),
    (-0.67, 0.65), (-0.75, 0.66), (-0.70, 0.68), (-0.72, 0.72), (-0.69, 0.73),
]
e_core_ur = [
    (0.69, 0.71), (0.71, 0.73), (0.67, 0.69), (0.73, 0.70), (0.65, 0.72), (0.70, 0.76), (0.68, 0.66),
    (0.75, 0.74), (0.63, 0.69), (0.72, 0.64), (0.66, 0.78), (0.77, 0.68), (0.61, 0.74), (0.69, 0.62),
    (0.74, 0.79), (0.64, 0.64), (0.79, 0.72), (0.59, 0.67), (0.76, 0.63), (0.70, 0.81), (0.62, 0.79),
    (0.81, 0.76), (0.70, 0.69), (0.68, 0.73), (0.72, 0.72), (0.66, 0.70), (0.74, 0.67), (0.65, 0.75),
    (0.78, 0.78), (0.60, 0.62), (0.83, 0.69), (0.67, 0.59), (0.57, 0.73), (0.75, 0.84), (0.85, 0.65),
    (0.63, 0.83), (0.80, 0.60),
    (0.70, 0.71), (0.71, 0.70), (0.69, 0.72), (0.72, 0.72), (0.68, 0.69), (0.73, 0.69), (0.67, 0.73),
    (0.70, 0.74), (0.71, 0.67), (0.74, 0.73), (0.66, 0.71), (0.69, 0.66), (0.72, 0.75), (0.75, 0.70),
    (0.65, 0.68), (0.68, 0.76), (0.73, 0.66), (0.76, 0.74), (0.64, 0.73), (0.71, 0.77), (0.67, 0.65),
    (0.75, 0.67), (0.66, 0.76), (0.70, 0.69), (0.72, 0.71), (0.69, 0.74),
]
e_core_ll = [
    (-0.73, -0.70), (-0.71, -0.68), (-0.75, -0.72), (-0.69, -0.71), (-0.77, -0.69), (-0.72, -0.65),
    (-0.74, -0.75), (-0.67, -0.67), (-0.79, -0.73), (-0.70, -0.76), (-0.76, -0.64), (-0.65, -0.72),
    (-0.81, -0.68), (-0.73, -0.79), (-0.68, -0.62), (-0.78, -0.78), (-0.63, -0.69), (-0.83, -0.74),
    (-0.71, -0.61), (-0.66, -0.77), (-0.80, -0.63), (-0.74, -0.82), (-0.72, -0.73), (-0.74, -0.67),
    (-0.70, -0.70), (-0.76, -0.71), (-0.68, -0.74), (-0.78, -0.66), (-0.64, -0.64), (-0.82, -0.78),
    (-0.69, -0.81), (-0.75, -0.59), (-0.61, -0.73), (-0.85, -0.70), (-0.66, -0.57), (-0.62, -0.80),
    (-0.80, -0.84),
    (-0.72, -0.71), (-0.71, -0.70), (-0.73, -0.72), (-0.70, -0.72), (-0.74, -0.69), (-0.69, -0.69),
    (-0.75, -0.73), (-0.72, -0.74), (-0.71, -0.67), (-0.68, -0.73), (-0.76, -0.71), (-0.73, -0.66),
    (-0.70, -0.75), (-0.67, -0.70), (-0.77, -0.68), (-0.74, -0.76), (-0.69, -0.66), (-0.66, -0.73),
    (-0.78, -0.74), (-0.71, -0.77), (-0.75, -0.65), (-0.67, -0.67), (-0.77, -0.76), (-0.72, -0.69),
    (-0.73, -0.74), (-0.70, -0.70),
]
e_core_lr = [
    (0.69, -0.70), (0.67, -0.72), (0.71, -0.68), (0.65, -0.69), (0.73, -0.71), (0.68, -0.66), (0.70, -0.75),
    (0.63, -0.67), (0.75, -0.73), (0.66, -0.63), (0.72, -0.77), (0.61, -0.72), (0.77, -0.66), (0.69, -0.61),
    (0.64, -0.78), (0.74, -0.62), (0.59, -0.68), (0.79, -0.75), (0.67, -0.81), (0.62, -0.63), (0.76, -0.80),
    (0.71, -0.58), (0.68, -0.72), (0.70, -0.67), (0.66, -0.74), (0.72, -0.65), (0.64, -0.71), (0.74, -0.69),
    (0.60, -0.78), (0.78, -0.61), (0.65, -0.59), (0.73, -0.83), (0.57, -0.67), (0.81, -0.71), (0.62, -0.84),
    (0.77, -0.57), (0.58, -0.60),
    (0.70, -0.71), (0.69, -0.70), (0.71, -0.72), (0.68, -0.72), (0.72, -0.69), (0.67, -0.69), (0.73, -0.73),
    (0.70, -0.74), (0.69, -0.67), (0.66, -0.73), (0.74, -0.71), (0.71, -0.66), (0.68, -0.75), (0.65, -0.70),
    (0.75, -0.68), (0.72, -0.76), (0.67, -0.66), (0.64, -0.74), (0.76, -0.74), (0.69, -0.78), (0.73, -0.66),
    (0.65, -0.77), (0.75, -0.76), (0.70, -0.69), (0.71, -0.74), (0.68, -0.70),
]
e_spread = [
    (-1.77, 0.24), (-1.62, -0.92), (-1.37, -0.39), (-1.08, 0.31), (-0.99, 0.43), (-1.05, -0.50), (-0.98, -0.45),
    (-1.01, -0.63), (-0.99, -0.90), (-0.91, -1.07), (-0.90, -0.72), (-0.86, -0.85), (-0.86, -0.64),
    (-0.83, -0.59), (-0.85, 1.07), (-0.71, 1.17), (-0.69, 1.01), (-0.67, 0.93), (-0.59, 0.95), (-0.56, 0.92),
    (-0.52, 0.87), (-0.36, 0.89), (-0.42, 0.86), (-0.43, 0.82), (-0.74, 0.87), (-0.84, 0.87), (-0.87, 0.85),
    (-0.92, 0.76), (-0.87, 0.74), (-0.90, 0.64), (-0.83, 0.64), (-0.87, 0.53), (-0.81, 0.51), (-0.79, 0.54),
    (-0.55, 0.58), (-0.52, 0.56), (-0.60, 0.44), (-0.50, 0.64), (-0.54, 0.66), (-0.51, 0.76), (-0.55, 0.79),
    (-0.30, 0.46), (-0.63, 0.19), (-0.45, 0.16), (-0.78, -0.05), (-0.34, -0.17), (-0.38, -0.31),
    (-0.62, -0.29), (-0.55, -0.36), (-0.61, -0.44), (-0.61, -0.48), (-0.59, -0.53), (-0.60, -0.58),
    (-0.73, -0.50), (-0.56, -0.75), (-0.63, -0.84), (-0.78, -0.88), (-0.76, -0.87), (0.00, 1.19),
    (0.60, 1.46), (1.06, 1.56), (0.57, 1.08), (0.75, 1.01), (0.63, 0.97), (0.65, 0.95), (0.57, 0.91),
    (0.50, 0.86), (0.63, 0.88), (0.78, 0.86), (0.84, 0.81), (0.57, 0.79), (0.55, 0.75), (0.53, 0.70),
    (0.42, 0.67), (0.87, 0.72), (0.90, 0.64), (0.97, 0.64), (0.97, 0.58), (0.97, 0.54), (0.99, 0.48),
    (0.81, 0.60), (0.56, 0.58), (0.53, 0.50), (0.52, 0.48), (0.37, 0.46), (0.33, 0.44), (0.57, 0.37),
    (0.68, 0.53), (0.70, 0.49), (0.74, 0.41), (0.75, 0.53), (1.33, 0.51),
    (0.49, -0.19), (0.54, -0.16), (0.75, -0.36), (0.65, -0.49), (0.71, -0.53), (0.58, -0.56), (0.55, -0.64),
    (0.90, -0.54), (0.81, -0.58), (0.88, -0.63), (0.98, -0.70), (0.99, -0.73), (1.10, -0.60), (1.10, -0.82),
    (1.15, -0.81), (0.86, -0.81), (0.53, -0.81), (0.57, -0.84), (0.63, -0.87), (0.69, -0.87), (0.76, -0.82),
    (0.69, -0.98), (0.81, -0.99), (0.79, -1.02), (0.57, -1.09), (1.08, -1.06), (1.16, -1.00), (1.53, 0.00),
    (1.49, -1.50),
]

titles = ['LS-LS-CFOE', 'OMP-LS-CFOE', 'EMSBL-LS-CFOE', 'VBISBL-LS-CFOE', 'Genie-aided']
panel_tags = ['(a)', '(b)', '(c)', '(d)', '(e)']
ticks = [-2, -1, 0, 1, 2]

panels = [
    pts_a,
    pts_b,
    c_core_ul + c_core_ur + c_core_ll + c_core_lr + c_spread,
    d_core_ul + d_core_ur + d_core_ll + d_core_lr + d_spread,
    e_core_ul + e_core_ur + e_core_ll + e_core_lr + e_spread,
]

# Axes boxes in figure fractions [left, bottom, width, height]
boxes = [
    [0.0299, 0.6260, 0.2859, 0.3475],
    [0.3684, 0.6260, 0.2859, 0.3475],
    [0.7066, 0.6260, 0.2859, 0.3475],
    [0.1994, 0.1067, 0.2859, 0.3475],
    [0.5373, 0.1067, 0.2859, 0.3475],
]
tag_y = [0.5437, 0.5437, 0.5437, 0.0245, 0.0245]

plt.rcParams['font.family'] = ['Liberation Sans', 'DejaVu Sans']
fig = plt.figure(figsize=(38.41, 24.92), dpi=100)

for i, pts in enumerate(panels):
    ax = fig.add_axes(boxes[i])
    arr = np.array(pts)
    ax.scatter(arr[:, 0], arr[:, 1], s=56, color='#0000ff', linewidths=0, zorder=3)

    ax.set_xlim(-2, 2)
    ax.set_ylim(-2, 2)
    ax.set_xticks(ticks)
    ax.set_yticks(ticks)
    ax.grid(True, color='#c4c4c4', linestyle=(0, (5, 3.5)), linewidth=1.0)
    ax.set_axisbelow(True)

    for side in ['top', 'right']:
        ax.spines[side].set_visible(False)
    for side in ['left', 'bottom']:
        ax.spines[side].set_color('#262626')
        ax.spines[side].set_linewidth(1.4)
    ax.tick_params(direction='in', length=7, width=1.3, colors='#262626', labelsize=24)
    ax.tick_params(axis='x', pad=13)
    ax.tick_params(axis='y', pad=12)

    ax.set_title(titles[i], fontsize=25, pad=12)
    ax.set_xlabel('In-Phase', fontsize=26, color='#262626', labelpad=15)
    ax.set_ylabel('Quadrature', fontsize=26, color='#262626', labelpad=1)

    b = boxes[i]
    fig.text(b[0] + b[2] / 2 + 0.0063, tag_y[i], panel_tags[i], ha='center', va='center',
             fontsize=50, fontweight='bold', family='Liberation Serif')

fig.savefig('out.png', dpi=100, facecolor='white')
plt.close(fig)
